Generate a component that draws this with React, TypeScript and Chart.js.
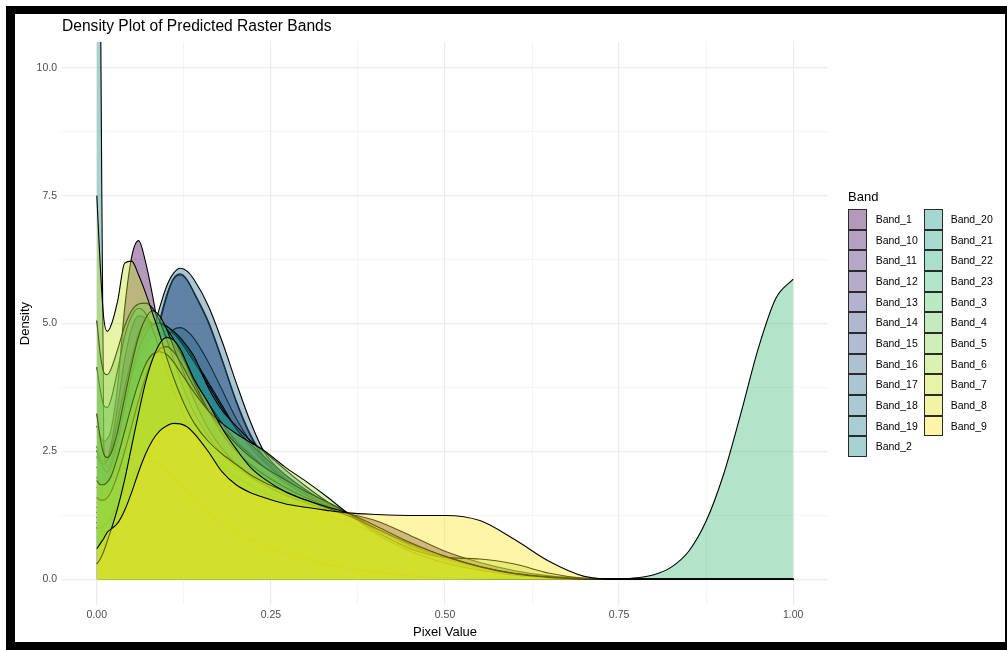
import React, { useEffect, useRef } from "react";
import { Chart, registerables } from "chart.js";

Chart.register(...registerables);

const FONT = "'Liberation Sans', Arial, Helvetica, sans-serif";

const TITLE = "Density Plot of Predicted Raster Bands";
const X_TITLE = "Pixel Value";
const Y_TITLE = "Density";
const LEGEND_TITLE = "Band";

const X_TICKS = [0, 0.125, 0.25, 0.375, 0.5, 0.625, 0.75, 0.875, 1];
const X_TICK_LABELS = ["0.00", "", "0.25", "", "0.50", "", "0.75", "", "1.00"];
const Y_TICKS = [0, 1.25, 2.5, 3.75, 5, 6.25, 7.5, 8.75, 10];
const Y_TICK_LABELS = ["0.0", "", "2.5", "", "5.0", "", "7.5", "", "10.0"];

// shared pixel-value grid for every density curve
const X_GRID = [
  0, 0.005, 0.01, 0.015, 0.02,
  0.03, 0.04, 0.05, 0.06, 0.07, 0.08, 0.09, 0.1, 0.11, 0.12, 0.13, 0.14,
  0.16, 0.18, 0.2, 0.22, 0.24,
  0.27, 0.3, 0.33, 0.36,
  0.4, 0.45, 0.5, 0.55, 0.6, 0.65, 0.7,
  0.75, 0.775, 0.8, 0.825, 0.85, 0.875, 0.9, 0.925, 0.95, 0.975, 1.0,
];

const BAND_NAMES = [
  "Band_1", "Band_10", "Band_11", "Band_12", "Band_13", "Band_14", "Band_15", "Band_16",
  "Band_17", "Band_18", "Band_19", "Band_2", "Band_20", "Band_21", "Band_22", "Band_23",
  "Band_3", "Band_4", "Band_5", "Band_6", "Band_7", "Band_8", "Band_9",
];

const BAND_COLORS = [
  "#440154", "#471164", "#482173", "#47307d", "#433e85", "#3e4b89", "#38588c", "#33648d",
  "#2e6f8e", "#297a8e", "#25858e", "#21918c", "#1e9b8a", "#21a685", "#2bb07f", "#3cbb75",
  "#52c569", "#6bcd5a", "#86d449", "#a5db36", "#c3e023", "#e2e419", "#fde725",
];

const BAND_1 = [3.0, 2.8, 2.7, 2.75, 2.9, 3.8, 5.3, 6.3, 6.62, 6.2, 5.55, 4.8, 4.1, 3.55, 3.2, 2.95, 2.8, 2.55, 2.35, 2.15, 1.98, 1.83, 1.65, 1.52, 1.41, 1.29, 1.15, 0.86, 0.55, 0.33, 0.17, 0.07, 0.02, 0, 0, 0, 0, 0, 0, 0, 0, 0, 0, 0];
const BAND_10 = [2.6, 2.4, 2.3, 2.35, 2.6, 3.4, 4.3, 4.9, 5.15, 5.1, 4.8, 4.4, 3.95, 3.55, 3.25, 3.0, 2.8, 2.5, 2.25, 2.05, 1.88, 1.72, 1.52, 1.35, 1.2, 1.05, 0.85, 0.6, 0.38, 0.22, 0.11, 0.04, 0.01, 0, 0, 0, 0, 0, 0, 0, 0, 0, 0, 0];
const BAND_11 = [2.2, 2.1, 2.05, 2.1, 2.3, 2.9, 3.6, 4.3, 4.8, 5.05, 5.0, 4.75, 4.4, 4.0, 3.6, 3.3, 3.05, 2.7, 2.4, 2.15, 1.95, 1.78, 1.57, 1.4, 1.25, 1.1, 0.88, 0.6, 0.37, 0.2, 0.09, 0.03, 0.01, 0, 0, 0, 0, 0, 0, 0, 0, 0, 0, 0];
const BAND_12 = [1.8, 1.75, 1.75, 1.8, 1.95, 2.4, 3.0, 3.7, 4.3, 4.75, 5.0, 5.0, 4.8, 4.45, 4.1, 3.75, 3.45, 2.95, 2.55, 2.25, 2.0, 1.8, 1.57, 1.4, 1.25, 1.1, 0.85, 0.56, 0.33, 0.17, 0.07, 0.02, 0.005, 0, 0, 0, 0, 0, 0, 0, 0, 0, 0, 0];
const BAND_13 = [1.5, 1.5, 1.55, 1.6, 1.7, 2.0, 2.45, 2.95, 3.45, 3.9, 4.25, 4.5, 4.6, 4.55, 4.4, 4.2, 3.95, 3.4, 2.85, 2.45, 2.15, 1.9, 1.62, 1.42, 1.25, 1.1, 0.85, 0.55, 0.32, 0.16, 0.07, 0.02, 0.005, 0, 0, 0, 0, 0, 0, 0, 0, 0, 0, 0];
const BAND_14 = [1.2, 1.3, 1.4, 1.5, 1.65, 2.0, 2.4, 2.85, 3.3, 3.85, 4.45, 5.05, 5.55, 5.88, 5.97, 5.85, 5.6, 5.05, 4.3, 3.5, 2.85, 2.4, 2.0, 1.7, 1.48, 1.28, 1.0, 0.65, 0.38, 0.2, 0.09, 0.03, 0.01, 0, 0, 0, 0, 0, 0, 0, 0, 0, 0, 0];
const BAND_15 = [1.1, 1.2, 1.3, 1.4, 1.55, 1.9, 2.3, 2.75, 3.2, 3.75, 4.35, 4.98, 5.5, 5.86, 5.95, 5.84, 5.58, 5.02, 4.27, 3.47, 2.82, 2.37, 1.97, 1.67, 1.46, 1.27, 0.98, 0.63, 0.37, 0.19, 0.08, 0.03, 0.01, 0, 0, 0, 0, 0, 0, 0, 0, 0, 0, 0];
const BAND_16 = [1.0, 1.1, 1.2, 1.3, 1.45, 1.8, 2.2, 2.65, 3.1, 3.55, 4.0, 4.4, 4.7, 4.88, 4.92, 4.85, 4.7, 4.25, 3.7, 3.15, 2.7, 2.33, 1.93, 1.64, 1.43, 1.25, 0.97, 0.62, 0.36, 0.18, 0.08, 0.03, 0.01, 0, 0, 0, 0, 0, 0, 0, 0, 0, 0, 0];
const BAND_17 = [1.3, 1.4, 1.5, 1.6, 1.75, 2.15, 2.6, 3.1, 3.65, 4.25, 4.8, 5.3, 5.72, 5.98, 6.08, 6.02, 5.85, 5.35, 4.65, 3.85, 3.1, 2.5, 2.05, 1.75, 1.5, 1.29, 1.0, 0.65, 0.38, 0.2, 0.09, 0.03, 0.01, 0, 0, 0, 0, 0, 0, 0, 0, 0, 0, 0];
const BAND_18 = [1.4, 1.5, 1.6, 1.75, 1.95, 2.45, 3.05, 3.6, 4.05, 4.4, 4.65, 4.8, 4.85, 4.8, 4.68, 4.5, 4.3, 3.85, 3.4, 2.95, 2.6, 2.3, 1.95, 1.68, 1.47, 1.28, 1.0, 0.65, 0.38, 0.2, 0.09, 0.03, 0.01, 0, 0, 0, 0, 0, 0, 0, 0, 0, 0, 0];
const BAND_19 = [2.0, 1.9, 1.85, 1.9, 2.05, 2.6, 3.3, 3.95, 4.45, 4.8, 5.0, 5.02, 4.95, 4.82, 4.65, 4.45, 4.25, 3.8, 3.35, 2.95, 2.65, 2.4, 2.05, 1.75, 1.5, 1.29, 1.0, 0.64, 0.37, 0.19, 0.08, 0.03, 0.01, 0, 0, 0, 0, 0, 0, 0, 0, 0, 0, 0];
const BAND_2 = [14, 12, 2.6, 2.2, 2.3, 2.8, 3.4, 3.95, 4.35, 4.6, 4.75, 4.8, 4.75, 4.6, 4.4, 4.15, 3.9, 3.45, 3.05, 2.7, 2.45, 2.2, 1.9, 1.65, 1.45, 1.27, 1.0, 0.65, 0.38, 0.2, 0.09, 0.03, 0.01, 0, 0, 0, 0, 0, 0, 0, 0, 0, 0, 0];
const BAND_20 = [2.4, 2.3, 2.25, 2.3, 2.5, 3.1, 3.75, 4.3, 4.7, 4.92, 5.0, 5.0, 4.95, 4.85, 4.72, 4.55, 4.35, 3.75, 3.3, 3.0, 2.72, 2.5, 2.15, 1.82, 1.53, 1.3, 1.0, 0.64, 0.37, 0.19, 0.08, 0.03, 0.01, 0, 0, 0, 0, 0, 0, 0, 0, 0, 0, 0];
const BAND_21 = [2.52, 2.3, 2.15, 2.1, 2.2, 2.7, 3.35, 4.0, 4.5, 4.8, 4.97, 5.0, 4.9, 4.7, 4.45, 4.15, 3.85, 3.3, 2.85, 2.5, 2.25, 2.05, 1.8, 1.6, 1.42, 1.26, 1.0, 0.66, 0.4, 0.22, 0.1, 0.04, 0.01, 0, 0, 0, 0, 0, 0, 0, 0, 0, 0, 0];
const BAND_22 = [4.15, 3.7, 3.4, 3.36, 3.5, 4.1, 4.75, 5.15, 5.3, 5.2, 4.9, 4.5, 4.1, 3.7, 3.35, 3.05, 2.8, 2.45, 2.2, 2.0, 1.85, 1.7, 1.52, 1.38, 1.25, 1.12, 0.9, 0.62, 0.38, 0.2, 0.09, 0.03, 0.01, 0, 0, 0, 0, 0, 0, 0, 0, 0, 0, 0];
const BAND_23 = [1.0, 1.0, 1.05, 1.1, 1.2, 1.45, 1.75, 2.0, 2.2, 2.3, 2.3, 2.25, 2.15, 2.0, 1.85, 1.7, 1.55, 1.3, 1.1, 0.92, 0.78, 0.66, 0.52, 0.4, 0.3, 0.22, 0.14, 0.07, 0.03, 0.01, 0.003, 0.001, 0, 0.008, 0.03, 0.09, 0.24, 0.55, 1.14, 2.05, 3.25, 4.52, 5.49, 5.87];
const BAND_3 = [5.06, 4.4, 4.05, 4.0, 4.1, 4.5, 4.95, 5.25, 5.38, 5.4, 5.3, 5.05, 4.7, 4.3, 3.9, 3.55, 3.25, 2.8, 2.45, 2.2, 2.0, 1.85, 1.65, 1.5, 1.37, 1.25, 1.0, 0.66, 0.4, 0.22, 0.1, 0.04, 0.01, 0, 0, 0, 0, 0, 0, 0, 0, 0, 0, 0];
const BAND_4 = [3.24, 2.75, 2.45, 2.38, 2.45, 2.9, 3.55, 4.2, 4.75, 5.1, 5.25, 5.15, 4.9, 4.55, 4.2, 3.85, 3.5, 2.95, 2.55, 2.25, 2.02, 1.85, 1.65, 1.5, 1.36, 1.24, 1.0, 0.68, 0.42, 0.24, 0.11, 0.04, 0.01, 0, 0, 0, 0, 0, 0, 0, 0, 0, 0, 0];
const BAND_5 = [1.6, 1.55, 1.55, 1.6, 1.7, 2.05, 2.5, 3.0, 3.5, 3.95, 4.3, 4.5, 4.55, 4.45, 4.25, 4.0, 3.75, 3.3, 2.95, 2.65, 2.4, 2.2, 1.95, 1.72, 1.52, 1.3, 0.9, 0.55, 0.32, 0.18, 0.08, 0.03, 0.005, 0, 0, 0, 0, 0, 0, 0, 0, 0, 0, 0];
const BAND_6 = [1.93, 1.85, 1.85, 1.9, 2.0, 2.4, 2.9, 3.4, 3.85, 4.2, 4.4, 4.45, 4.4, 4.25, 4.05, 3.85, 3.65, 3.3, 3.05, 2.85, 2.68, 2.52, 2.2, 1.92, 1.62, 1.3, 0.95, 0.6, 0.43, 0.4, 0.3, 0.12, 0.02, 0, 0, 0, 0, 0, 0, 0, 0, 0, 0, 0];
const BAND_7 = [7.5, 6.1, 5.1, 4.85, 4.95, 5.45, 6.18, 6.22, 5.95, 5.6, 5.2, 4.8, 4.35, 3.95, 3.6, 3.3, 3.05, 2.7, 2.45, 2.25, 2.05, 1.9, 1.72, 1.55, 1.4, 1.25, 1.0, 0.7, 0.45, 0.25, 0.12, 0.05, 0.01, 0, 0, 0, 0, 0, 0, 0, 0, 0, 0, 0];
const BAND_8 = [0.3, 0.4, 0.55, 0.75, 0.95, 1.4, 1.95, 2.6, 3.25, 3.85, 4.3, 4.6, 4.73, 4.68, 4.5, 4.2, 3.9, 3.45, 2.95, 2.55, 2.2, 1.97, 1.72, 1.55, 1.42, 1.3, 1.05, 0.72, 0.45, 0.25, 0.11, 0.04, 0.01, 0, 0, 0, 0, 0, 0, 0, 0, 0, 0, 0];
const BAND_9 = [0.6, 0.7, 0.8, 0.92, 0.98, 1.1, 1.35, 1.7, 2.1, 2.45, 2.72, 2.9, 3.0, 3.05, 3.04, 2.98, 2.85, 2.5, 2.1, 1.85, 1.7, 1.6, 1.48, 1.41, 1.35, 1.3, 1.27, 1.25, 1.25, 1.15, 0.78, 0.35, 0.06, 0, 0, 0, 0, 0, 0, 0, 0, 0, 0, 0];

const BAND_VALUES = [
  BAND_1, BAND_10, BAND_11, BAND_12, BAND_13, BAND_14, BAND_15, BAND_16,
  BAND_17, BAND_18, BAND_19, BAND_2, BAND_20, BAND_21, BAND_22, BAND_23,
  BAND_3, BAND_4, BAND_5, BAND_6, BAND_7, BAND_8, BAND_9,
];

const FILL_ALPHA = 0.4;

function rgba(hex: string, a: number): string {
  const r = parseInt(hex.slice(1, 3), 16);
  const g = parseInt(hex.slice(3, 5), 16);
  const b = parseInt(hex.slice(5, 7), 16);
  return `rgba(${r},${g},${b},${a})`;
}

export default function App() {
  const canvasRef = useRef<HTMLCanvasElement | null>(null);

  useEffect(() => {
    const canvas = canvasRef.current;
    if (!canvas) return;
    const n = BAND_NAMES.length;
    const datasets = BAND_NAMES.map((name, i) => ({
      label: name,
      data: X_GRID.map((x, j) => ({ x, y: BAND_VALUES[i][j] })),
      backgroundColor: rgba(BAND_COLORS[i], FILL_ALPHA),
      borderColor: "#000000",
      borderWidth: 1.1,
      pointRadius: 0,
      pointHoverRadius: 0,
      fill: "origin",
      cubicInterpolationMode: "monotone",
      order: n - 1 - i,
    }));

    const gridColor = (ctx: any) => (ctx.index % 2 === 0 ? "#ebebeb" : "#f1f1f1");
    const gridWidth = (ctx: any) => (ctx.index % 2 === 0 ? 1.2 : 0.8);

    const chart = new Chart(canvas, {
      type: "line",
      data: { datasets: datasets as any },
      options: {
        animation: false,
        responsive: false,
        devicePixelRatio: 1,
        events: [],
        layout: { padding: { left: 15, right: 179, top: 14, bottom: 8 } },
        plugins: {
          legend: { display: false },
          tooltip: { enabled: false },
          title: {
            display: true,
            text: TITLE,
            align: "start",
            fullSize: false,
            color: "#000000",
            font: { family: FONT, size: 15.6, weight: "normal" },
            padding: { top: 3.7, bottom: 5.7 },
          } as any,
        },
        scales: {
          x: {
            type: "linear",
            min: -0.05,
            max: 1.05,
            afterBuildTicks: (axis: any) => {
              axis.ticks = X_TICKS.map((v) => ({ value: v }));
            },
            afterFit: (scale: any) => {
              scale.height = 37;
            },
            grid: { color: gridColor, lineWidth: gridWidth, drawTicks: false },
            border: { display: false },
            ticks: {
              autoSkip: false,
              maxRotation: 0,
              padding: 4,
              color: "#4d4d4d",
              font: { family: FONT, size: 10.5 },
              callback: (_v: any, idx: number) => X_TICK_LABELS[idx],
            },
            title: {
              display: true,
              text: X_TITLE,
              color: "#000000",
              font: { family: FONT, size: 13 },
              padding: { top: 0, bottom: 2 },
            },
          },
          y: {
            type: "linear",
            min: -0.5,
            max: 10.5,
            afterBuildTicks: (axis: any) => {
              axis.ticks = Y_TICKS.map((v) => ({ value: v }));
            },
            afterFit: (scale: any) => {
              scale.width = 47;
            },
            grid: { color: gridColor, lineWidth: gridWidth, drawTicks: false },
            border: { display: false },
            ticks: {
              autoSkip: false,
              padding: 5,
              color: "#4d4d4d",
              font: { family: FONT, size: 10.5 },
              callback: (_v: any, idx: number) => Y_TICK_LABELS[idx],
            },
            title: {
              display: true,
              text: Y_TITLE,
              color: "#000000",
              font: { family: FONT, size: 13 },
              padding: { top: 3, bottom: 0 },
            },
          },
        },
      } as any,
    });
    return () => chart.destroy();
  }, []);

  const rowH = 20.67;
  return (
    <div
      style={{
        position: "fixed",
        left: 0,
        top: 0,
        width: 1007,
        height: 650,
        background: "#ffffff",
        overflow: "hidden",
      }}
    >
      <canvas
        ref={canvasRef}
        width={1007}
        height={650}
        style={{ position: "absolute", left: 0, top: 0, width: 1007, height: 650 }}
      />
      <div
        style={{
          position: "absolute",
          left: 848,
          top: 189,
          font: `13px ${FONT}`,
          lineHeight: "16px",
          color: "#000",
          whiteSpace: "nowrap",
        }}
      >
        {LEGEND_TITLE}
      </div>
      {BAND_NAMES.map((name, i) => {
        const col = i < 12 ? 0 : 1;
        const row = col ? i - 12 : i;
        const keyLeft = col ? 924.3 : 848.3;
        const textLeft = col ? 950.7 : 875.7;
        const top = 209 + row * rowH;
        return (
          <React.Fragment key={name}>
            <div
              style={{
                position: "absolute",
                left: keyLeft,
                top,
                width: 19,
                height: rowH,
                boxSizing: "border-box",
                border: "1px solid #2a2a2a",
                background: rgba(BAND_COLORS[i], FILL_ALPHA),
              }}
            />
            <div
              style={{
                position: "absolute",
                left: textLeft,
                top: top + rowH / 2 - 6.5,
                font: `10.5px ${FONT}`,
                lineHeight: "13px",
                color: "#000",
                whiteSpace: "nowrap",
              }}
            >
              {name}
            </div>
          </React.Fragment>
        );
      })}
      <div
        style={{
          position: "absolute",
          left: 6,
          top: 6,
          width: 1003,
          height: 646,
          boxSizing: "border-box",
          borderLeft: "9px solid #000",
          borderTop: "8px solid #000",
          borderRight: "4px solid #000",
          borderBottom: "10px solid #000",
          pointerEvents: "none",
        }}
      />
    </div>
  );
}
